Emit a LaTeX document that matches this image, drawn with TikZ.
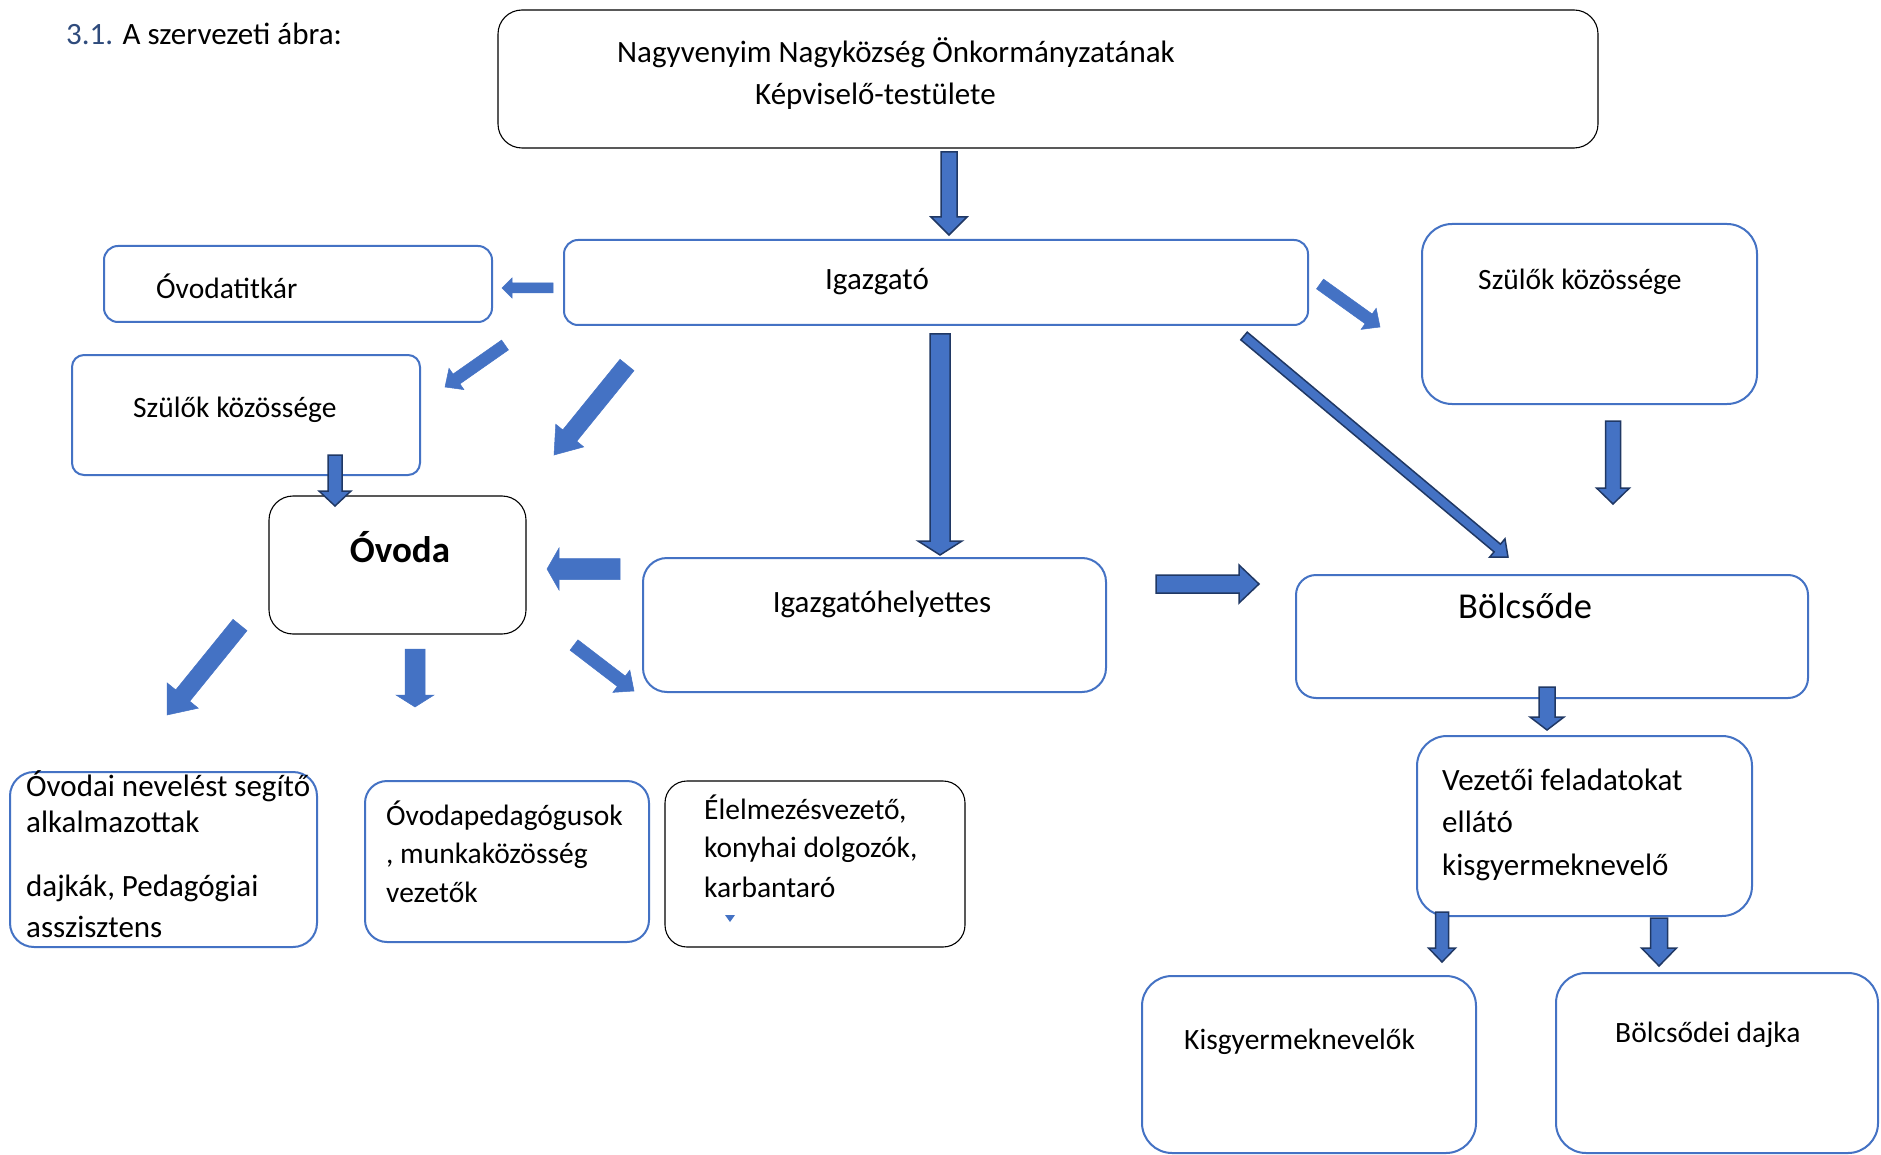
\documentclass[tikz,border=0pt]{standalone}
\usepackage{fontspec}
\setmainfont{Carlito}
\usetikzlibrary{calc}
\definecolor{bl}{HTML}{4472C4}
\definecolor{nv}{HTML}{203864}
\definecolor{tb}{HTML}{2F4B7C}
% block arrow: style, start, end, half shaft, half head, head length
\newcommand\blk[6]{%
  \coordinate (bkC) at ($(#3)!#6pt!(#2)$);
  \filldraw[#1] ($(#2)!#4pt!90:(#3)$) -- ($(bkC)!#4pt!-90:(#2)$) -- ($(bkC)!#5pt!-90:(#2)$) -- (#3) -- ($(bkC)!#5pt!90:(#2)$) -- ($(bkC)!#4pt!90:(#2)$) -- ($(#2)!#4pt!-90:(#3)$) -- cycle;}
\begin{document}
\begin{tikzpicture}[x=1pt,y=-1pt,
  bbox/.style={draw=bl, line width=2pt, rounded corners=#1, inner sep=0pt},
  bbox/.default=14pt,
  kbox/.style={draw=black, line width=1.1pt, rounded corners=#1, inner sep=0pt},
  kbox/.default=24pt,
  txt/.style={font=\fontsize{29.5}{36}\selectfont, inner sep=0pt, anchor=base west},
  ltxt/.style={font=\fontsize{31}{36}\selectfont, inner sep=0pt, anchor=base west},
  flat/.style={fill=bl, draw=bl, line width=0.5pt},
  outl/.style={fill=bl, draw=nv, line width=1.5pt, line join=miter}]
\useasboundingbox (0,0) rectangle (1881,1155);
\fill[white] (0,0) rectangle (1881,1155);

% boxes
\node[kbox=24pt, minimum width=1100pt, minimum height=138pt] (top) at (1048,79) {};
\node[bbox=14pt, minimum width=744pt, minimum height=85pt] (igaz) at (936,282.5) {};
\node[bbox=14pt, minimum width=388pt, minimum height=76pt] (titk) at (298,284) {};
\node[bbox=12pt, minimum width=348pt, minimum height=120pt] (szulL) at (246,415) {};
\node[kbox=24pt, minimum width=257pt, minimum height=138pt] (ovoda) at (397.5,565) {};
\node[bbox=24pt, minimum width=463pt, minimum height=134pt] (hely) at (874.5,625) {};
\node[bbox=30pt, minimum width=335pt, minimum height=180pt] (szulR) at (1589.5,314) {};
\node[bbox=20pt, minimum width=512pt, minimum height=123pt] (bolcs) at (1552,636.5) {};
\node[bbox=30pt, minimum width=335pt, minimum height=180pt] (vez) at (1584.5,826) {};
\node[bbox=30pt, minimum width=334pt, minimum height=177pt] (kisgy) at (1309,1064.5) {};
\node[bbox=30pt, minimum width=322pt, minimum height=180pt] (dajka) at (1717,1063) {};
\node[bbox=24pt, minimum width=307pt, minimum height=175pt] (ovodai) at (163.5,859.5) {};
\node[bbox=22pt, minimum width=284pt, minimum height=161pt] (pedag) at (507,861.5) {};
\node[kbox=22pt, minimum width=300pt, minimum height=166pt] (elelm) at (815,864) {};

% texts
\node[ltxt] (tT) at (66,45) {\textcolor{tb}{3.1.} A szervezeti ábra:};
\node[ltxt] (t1a) at (617,63) {Nagyvenyim Nagyközség Önkormányzatának};
\node[ltxt] (t1b) at (755,105) {Képviselő-testülete};
\node[ltxt, anchor=base] (tIg) at (877,290) {Igazgató};
\node[txt] (tTit) at (156,299) {Óvodatitkár};
\node[txt] (tSzL) at (133,417) {Szülők közössége};
\node[txt, anchor=base, font=\bfseries\fontsize{37}{40}\selectfont] (tOv) at (400,562) {Óvoda};
\node[ltxt, anchor=base] (tHely) at (882,612) {Igazgatóhelyettes};
\node[txt] (tSzR) at (1478,290) {Szülők közössége};
\node[txt, font=\fontsize{36.5}{40}\selectfont] (tBo) at (1458,618) {Bölcsőde};
\node[ltxt] (tV1) at (1442,790) {Vezetői feladatokat};
\node[ltxt] (tV2) at (1442,832) {ellátó};
\node[ltxt] (tV3) at (1442,875) {kisgyermeknevelő};
\node[txt] (tK) at (1184,1049) {Kisgyermeknevelők};
\node[txt] (tD) at (1615,1042) {Bölcsődei dajka};
\node[ltxt] (tO1) at (26,796) {Óvodai nevelést segítő};
\node[ltxt] (tO2) at (26,832) {alkalmazottak};
\node[ltxt] (tO3) at (26,896) {dajkák, Pedagógiai};
\node[ltxt] (tO4) at (26,937) {asszisztens};
\node[txt] (tP1) at (386,825) {Óvodapedagógusok};
\node[txt] (tP2) at (386,863) {, munkaközösség};
\node[txt] (tP3) at (386,902) {vezetők};
\node[txt] (tE1) at (704,819) {Élelmezésvezető,};
\node[txt] (tE2) at (704,857) {konyhai dolgozók,};
\node[txt] (tE3) at (704,897) {karbantaró};
\fill[bl] (725,915) -- (735,915) -- (730,922) -- cycle;

% arrow end points
\coordinate (a1s) at (949,152);  \coordinate (a1e) at (949,235);
\coordinate (a2s) at (553,288);  \coordinate (a2e) at (502,288);
\coordinate (a3s) at (505,345);  \coordinate (a3e) at (445,387);
\coordinate (a4s) at (627,365);  \coordinate (a4e) at (554,455);
\coordinate (a5s) at (335,455);  \coordinate (a5e) at (335,506);
\coordinate (a6s) at (620,569);  \coordinate (a6e) at (547,569);
\coordinate (a7s) at (940,334);  \coordinate (a7e) at (940,555);
\coordinate (a8s) at (1320,284); \coordinate (a8e) at (1380,327);
\coordinate (a9s) at (1244,336); \coordinate (a9e) at (1508,557);
\coordinate (a10s) at (1613,421); \coordinate (a10e) at (1613,504);
\coordinate (a11s) at (1156,584); \coordinate (a11e) at (1259,584);
\coordinate (a12s) at (1547,687); \coordinate (a12e) at (1547,730);
\coordinate (a13s) at (1442,912); \coordinate (a13e) at (1442,962);
\coordinate (a14s) at (1659,918); \coordinate (a14e) at (1659,966);
\coordinate (a15s) at (240,625); \coordinate (a15e) at (167,715);
\coordinate (a16s) at (415,649); \coordinate (a16e) at (415,707);
\coordinate (a17s) at (574,645); \coordinate (a17e) at (634,691);

% arrows
\blk{outl}{a1s}{a1e}{8}{18}{18}
\blk{flat}{a2s}{a2e}{5}{10}{10}
\blk{flat}{a3s}{a3e}{6}{13}{14}
\blk{flat}{a4s}{a4e}{9}{18}{25}
\blk{outl}{a5s}{a5e}{7}{16}{15}
\blk{flat}{a6s}{a6e}{10.5}{21}{12}
\blk{outl}{a7s}{a7e}{10}{22}{14}
\blk{flat}{a8s}{a8e}{6}{13}{14}
\blk{outl}{a9s}{a9e}{5}{12}{14}
\blk{outl}{a10s}{a10e}{7.5}{16.5}{16}
\blk{outl}{a11s}{a11e}{9}{19}{20}
\blk{outl}{a12s}{a12e}{8}{17}{13}
\blk{outl}{a13s}{a13e}{6.5}{13.5}{14}
\blk{outl}{a14s}{a14e}{8.5}{17.5}{18}
\blk{flat}{a15s}{a15e}{9}{20}{25}
\blk{flat}{a16s}{a16e}{10}{19}{12}
\blk{flat}{a17s}{a17e}{6.5}{14}{16}
\end{tikzpicture}
\end{document}
